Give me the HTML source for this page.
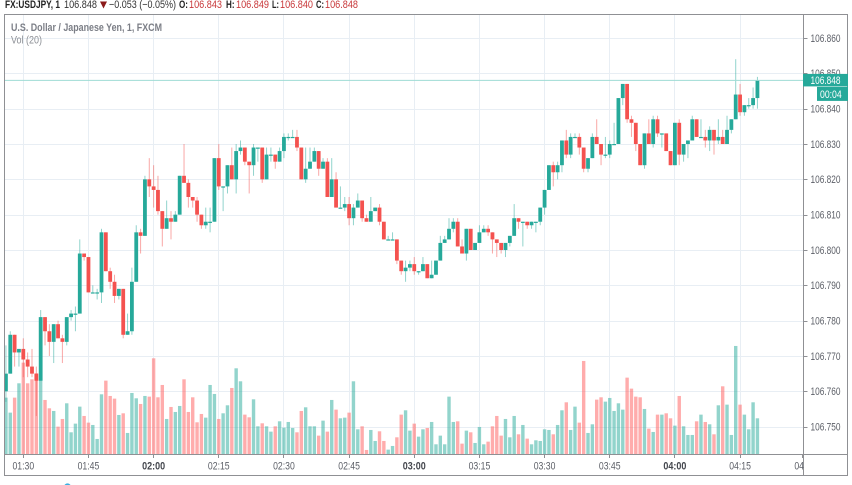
<!DOCTYPE html>
<html lang="en">
<head>
<meta charset="utf-8">
<title>FX:USDJPY 1 minute chart</title>
<style>
html,body{margin:0;padding:0;background:#fff;width:852px;height:485px;overflow:hidden}
svg{display:block;font-family:"Liberation Sans",sans-serif;filter:blur(.3px)}
</style>
</head>
<body>
<svg id="chart" xmlns="http://www.w3.org/2000/svg" width="852" height="485" viewBox="0 0 852 485">
  <defs>
    <clipPath id="pane-clip"><rect x="5" y="15" width="798.5" height="439.5"/></clipPath>
    <clipPath id="time-clip"><rect x="5" y="455" width="798.5" height="20"/></clipPath>
  </defs>
  <rect x="0" y="0" width="852" height="485" fill="#fff"/>

  <g id="grid"></g>
  <g id="volumes" clip-path="url(#pane-clip)"></g>
  <g id="candles" clip-path="url(#pane-clip)"></g>
  <line id="last-line" x1="5" x2="803" stroke="#9fdcd5" stroke-width="1"/>

  <g stroke="#8f9094" stroke-width="1" fill="none">
    <line x1="4" y1="14.5" x2="848" y2="14.5"/>
    <line x1="4.5" y1="14" x2="4.5" y2="475.5"/>
    <line x1="847.5" y1="14" x2="847.5" y2="475.5"/>
    <line x1="4" y1="475.5" x2="848" y2="475.5"/>
    <line x1="803.5" y1="14" x2="803.5" y2="475.5"/>
    <line x1="4" y1="454.5" x2="848" y2="454.5"/>
  </g>

  <g id="price-axis"></g>
  <g id="time-axis" clip-path="url(#time-clip)"></g>
  <g id="time-ticks"></g>

  <g id="last-labels"></g>

  <g font-size="11">
    <text x="5" y="8" font-weight="700" fill="#222" textLength="55" lengthAdjust="spacingAndGlyphs">FX:USDJPY, 1</text>
    <text x="64" y="8" fill="#333" textLength="33" lengthAdjust="spacingAndGlyphs">106.848</text>
    <polygon points="100,1.5 107,1.5 103.5,8.5" fill="#8b1a1a"/>
    <text x="109" y="8" fill="#333" textLength="67" lengthAdjust="spacingAndGlyphs">−0.053 (−0.05%)</text>
    <text x="179" y="8" font-weight="700" fill="#222" textLength="9" lengthAdjust="spacingAndGlyphs">O:</text>
    <text x="189" y="8" fill="#c8383a" textLength="33" lengthAdjust="spacingAndGlyphs">106.843</text>
    <text x="226" y="8" font-weight="700" fill="#222" textLength="8.5" lengthAdjust="spacingAndGlyphs">H:</text>
    <text x="236" y="8" fill="#c8383a" textLength="33" lengthAdjust="spacingAndGlyphs">106.849</text>
    <text x="272" y="8" font-weight="700" fill="#222" textLength="7" lengthAdjust="spacingAndGlyphs">L:</text>
    <text x="280" y="8" fill="#c8383a" textLength="33" lengthAdjust="spacingAndGlyphs">106.840</text>
    <text x="316" y="8" font-weight="700" fill="#222" textLength="8" lengthAdjust="spacingAndGlyphs">C:</text>
    <text x="325" y="8" fill="#c8383a" textLength="33" lengthAdjust="spacingAndGlyphs">106.848</text>
  </g>

  <text x="11" y="31" font-size="11" font-weight="700" fill="#7b7e86" textLength="151" lengthAdjust="spacingAndGlyphs">U.S. Dollar / Japanese Yen, 1, FXCM</text>
  <text x="11" y="43.5" font-size="11" fill="#8d9096" textLength="31" lengthAdjust="spacingAndGlyphs">Vol (20)</text>
  <circle cx="67.5" cy="487" r="3.6" fill="#3ab0e2"/>
</svg>

<script>
// Prices are thousandths above priceBase (760 means 106.760).
const priceBase = 106;
const opens = [760,765,776,771,772,769,767,765,763,781,777,774,779,775,774,781,782,782,799,798,788,788,788,805,794,791,787,789,776,777,791,805,804,820,818,817,811,806,809,808,810,821,819,815,814,810,807,808,808,826,818,818,824,820,828,829,825,824,829,829,820,827,827,825,828,832,832,832,829,820,823,825,828,823,825,815,820,812,812,813,809,812,814,809,808,811,812,808,803,803,803,797,794,795,796,794,794,796,792,793,797,802,803,806,808,801,799,806,800,802,805,806,805,803,802,800,802,804,809,808,808,807,808,808,812,817,824,822,824,831,827,832,832,829,823,826,832,830,827,827,830,830,843,847,837,836,830,824,833,830,837,833,833,828,824,836,827,830,831,837,832,832,831,834,831,832,830,834,837,844,839,841,841,843];
const highs = [773,777,776,772,775,771,772,767,783,781,779,779,780,776,781,783,784,803,799,798,790,789,806,805,795,793,789,789,782,795,807,806,821,826,824,821,811,814,811,811,821,830,820,815,815,810,812,812,826,830,818,824,829,830,831,829,825,830,829,829,829,829,827,829,833,833,834,834,829,829,829,829,828,826,826,826,822,818,815,815,813,816,814,810,815,812,813,808,804,805,803,797,797,797,798,794,798,796,797,797,804,804,809,809,809,803,806,806,802,807,807,807,805,803,802,802,804,813,809,808,808,808,808,812,817,824,825,825,831,834,833,833,833,829,826,833,837,830,832,831,836,843,847,847,838,836,830,833,837,838,838,833,833,828,836,837,830,831,838,837,837,834,835,834,837,834,838,837,854,847,841,843,846,849];
const lows = [757,765,767,767,764,764,764,753,763,773,770,768,775,768,773,780,777,782,797,788,788,786,785,794,789,785,786,775,776,776,791,799,804,815,812,810,801,806,803,808,810,819,812,812,808,806,806,805,808,817,811,816,820,816,827,824,816,821,825,819,820,825,823,825,826,831,832,828,820,819,823,825,821,823,815,815,812,812,811,807,807,812,808,808,808,811,807,803,803,803,796,793,791,794,793,793,794,792,792,793,797,802,803,805,801,799,797,800,800,802,805,804,799,798,799,798,801,804,806,801,806,806,805,807,810,817,818,820,822,826,826,832,827,822,822,826,830,824,826,826,830,830,841,836,832,828,824,823,830,829,832,829,828,824,824,824,825,826,831,832,832,829,828,827,830,830,830,833,837,838,838,840,840,840];
const closes = [765,776,771,772,769,767,765,763,781,777,774,779,775,774,781,782,782,799,798,788,788,788,805,794,791,787,789,776,777,791,805,804,820,818,817,811,806,809,808,810,821,819,815,814,810,807,808,808,826,818,818,824,820,828,829,825,824,829,829,820,827,827,825,828,832,832,832,829,820,823,825,828,823,825,815,820,812,812,813,809,812,814,809,808,811,812,808,803,803,803,797,794,795,796,794,794,796,792,793,797,802,803,806,808,801,799,806,800,802,805,806,805,803,802,800,802,804,809,808,808,807,808,808,812,817,824,822,824,831,827,832,832,829,823,826,832,830,827,827,830,830,843,847,837,836,830,824,833,830,837,833,833,828,824,836,827,830,831,837,832,832,831,834,831,832,830,834,837,844,839,841,841,843,848];
const volumes = [170,125,170,213,275,213,225,243,223,163,138,130,83,106,153,66,92,143,115,95,88,46,180,221,175,167,118,123,64,184,168,151,175,173,288,171,208,106,142,127,145,225,127,171,96,121,110,208,181,106,123,147,199,258,219,119,111,165,84,93,84,68,84,99,80,97,79,66,130,141,84,84,56,101,68,163,134,108,110,125,219,75,84,13,73,40,69,40,14,25,51,119,132,71,92,53,75,79,97,30,56,30,173,97,99,32,71,66,34,82,30,38,84,115,56,106,51,115,60,88,47,30,42,40,75,73,60,88,132,156,73,143,95,280,64,90,164,171,158,169,130,153,134,230,197,173,171,136,77,67,119,119,123,108,86,175,84,58,58,99,119,97,90,60,147,204,149,58,325,149,119,75,156,108];
const priceTicks = [860,850,840,830,820,810,800,790,780,770,760,750];
const timeLabels = ['01:30','01:45','02:00','02:15','02:30','02:45','03:00','03:15','03:30','03:45','04:00','04:15','04:30'];
const countdownLabel = '00:04';

const NS = 'http://www.w3.org/2000/svg';
const UP = '#26a99a', DOWN = '#f4524f';
const BAR_STEP = 4.344, FIRST_TICK_BAR = 4, BARS_PER_TICK = 15;

function xOf(i){ return 23.3 + (i - FIRST_TICK_BAR) * BAR_STEP; }
function yOf(p){ return 144 + (830 - p) * 3.533; }
function volY(v){ return 454.3 - v / 3; }
function fmt(p){ return (priceBase + p / 1000).toFixed(3); }
function mk(tag, attrs, parent){
  const el = document.createElementNS(NS, tag);
  for (const k in attrs) el.setAttribute(k, attrs[k]);
  parent.appendChild(el);
  return el;
}

const gridG = document.getElementById('grid');
const volG = document.getElementById('volumes');
const candleG = document.getElementById('candles');
const priceG = document.getElementById('price-axis');
const timeG = document.getElementById('time-axis');
const timeTickG = document.getElementById('time-ticks');
const lastG = document.getElementById('last-labels');

priceTicks.forEach(function(p){
  const y = Math.round(yOf(p)) + 0.5;
  const g = mk('line', {x1:5, x2:803, y1:y, y2:y, stroke:'#e8eef4', 'stroke-width':1}, gridG);
  
  
  const t = mk('line', {x1:804, x2:807.5, y1:y, y2:y, stroke:'#8f9094', 'stroke-width':1}, priceG);
  
  
  const label = mk('text', {x:810.5, y:yOf(p) + 3.8, 'font-size':11, fill:'#5d6068', textLength:30, lengthAdjust:'spacingAndGlyphs'}, priceG);
  
  
  label.textContent = fmt(p);
});

timeLabels.forEach(function(text, j){
  const x = xOf(FIRST_TICK_BAR + j * BARS_PER_TICK);
  const bold = text.slice(3) === '00';
  if (x < 803) {
    const gx = Math.round(x - 0.5) + 0.5;
    const v = mk('line', {x1:gx, x2:gx, y1:15, y2:454, stroke:'#e8eef4', 'stroke-width':1}, gridG);
    
    
  }
  const tx = Math.min(Math.round(x - 0.5) + 0.5, 802.5);
  const tick = mk('line', {x1:tx, x2:tx, y1:455, y2:458, stroke:'#8f9094', 'stroke-width':1}, timeTickG);
  
  
  const label = mk('text', {x:x, y:469.7, 'font-size':11, fill: bold ? '#44474e' : '#5d6068', 'font-weight': bold ? 700 : 400, 'text-anchor':'middle', textLength: bold ? 23 : 21.7, lengthAdjust:'spacingAndGlyphs'}, timeG);
  
  
  label.textContent = text;
});

volumes.forEach(function(v, i){
  const up = closes[i] >= opens[i];
  const top = volY(v);
  const bar = mk('rect', {x:xOf(i) - 1.7, y:top, width:3.4, height:454.3 - top, fill: up ? UP : '#ff5a5a', opacity:.5}, volG);
  
  
});

opens.forEach(function(o, i){
  const c = closes[i];
  const up = c >= o;
  const col = up ? UP : DOWN;
  const x = xOf(i);
  const wick = mk('line', {x1:x, x2:x, y1:yOf(highs[i]), y2:yOf(lows[i]), stroke:col, 'stroke-width':1, opacity:.5}, candleG);
  
  
  const top = yOf(Math.max(o, c));
  const h = Math.max(1.2, Math.abs(yOf(o) - yOf(c)));
  const body = mk('rect', {x:x - 1.9, y:top, width:3.8, height:h, fill:col}, candleG);
  
  
});

const lastPrice = closes[closes.length - 1];
const lastY = yOf(lastPrice);
const lastLine = document.getElementById('last-line');
lastLine.setAttribute('y1', lastY);
lastLine.setAttribute('y2', lastY);

const priceBox = mk('rect', {x:803, y:lastY - 6.5, width:45, height:12.5, fill:UP}, lastG);


const priceText = mk('text', {x:810.5, y:lastY + 3.5, 'font-size':11, fill:'#fff', textLength:30, lengthAdjust:'spacingAndGlyphs'}, lastG);


priceText.textContent = fmt(lastPrice);
const countBox = mk('rect', {x:817, y:lastY + 6.5, width:31, height:14, fill:UP}, lastG);


const countText = mk('text', {x:820, y:lastY + 17.5, 'font-size':11, fill:'#fff', textLength:21.7, lengthAdjust:'spacingAndGlyphs'}, lastG);


countText.textContent = countdownLabel;
</script>
</body>
</html>
